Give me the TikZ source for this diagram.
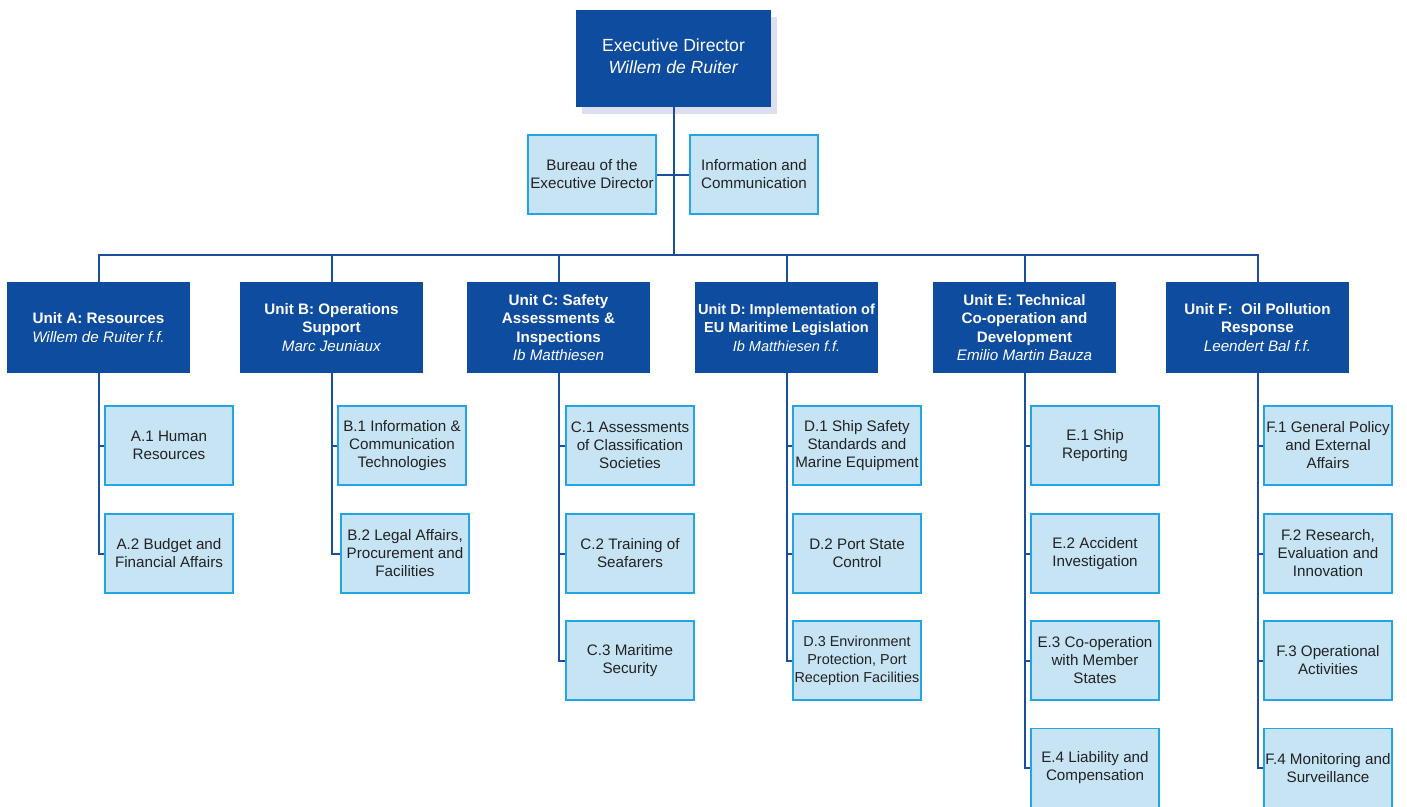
\documentclass[tikz,border=0pt]{standalone}
\usepackage{fontspec}
\setmainfont{Liberation Sans}
\definecolor{unitblue}{HTML}{0E4C9F}
\definecolor{linkblue}{HTML}{1C4E9E}
\definecolor{subfill}{HTML}{C7E4F5}
\definecolor{subline}{HTML}{22A5E2}
\definecolor{shadowc}{HTML}{DCDFEF}
\definecolor{subtext}{HTML}{222222}
\newcommand\subfnt{\fontsize{11.4}{13.5}\selectfont}
\newcommand\subfntsm{\fontsize{10.8}{13.5}\selectfont}
\newcommand\edfnt{\fontsize{13.2}{16.5}\selectfont}
\newcommand\unitfnt{\fontsize{11.4}{13.9}\selectfont}
\newcommand\unitfntsm{\fontsize{10.9}{13.9}\selectfont}
\tikzset{
  subbox/.style={draw=subline, fill=subfill, line width=1.4pt, minimum width=96.25pt, minimum height=59.25pt, inner sep=0pt, align=center, font=\subfnt, text=subtext},
  unitbox/.style={fill=unitblue, minimum width=137.25pt, minimum height=68.25pt, inner sep=0pt, align=center, font=\unitfnt, text=white},
  edbox/.style={fill=unitblue, minimum width=146.25pt, minimum height=72.75pt, inner sep=0pt, align=center, font=\edfnt, text=white},
  shadowbox/.style={fill=shadowc, minimum width=146.25pt, minimum height=72.75pt, inner sep=0pt},
  link/.style={draw=linkblue, line width=1.5pt}
}
\begin{document}
\begin{tikzpicture}[x=0.75pt,y=-0.75pt]
\useasboundingbox (0,0) rectangle (1407,807);
% executive director
\node[shadowbox] (edshadow) at (679.5,65) {};
\node[edbox, text depth=4pt] (ed) at (673.5,58.5) {Executive Director\\\textit{Willem de Ruiter}};
\node[subbox] (bur) at (592,174.5) {Bureau of the\\Executive Director};
\node[subbox] (inf) at (754,174.5) {Information and\\Communication};
\coordinate (bus) at (673.5,255);
% units
\node[unitbox] (ua) at (98.5,327.5) {\textbf{Unit A: Resources}\\\textit{Willem de Ruiter f.f.}};
\node[unitbox] (ub) at (331.5,327.5) {\textbf{Unit B: Operations}\\\textbf{Support}\\\textit{Marc Jeuniaux}};
\node[unitbox] (uc) at (558.5,327.5) {\textbf{Unit C: Safety}\\\textbf{Assessments \&}\\\textbf{Inspections}\\\textit{Ib Matthiesen}};
\node[unitbox, font=\unitfntsm] (ud) at (786.5,327.5) {\textbf{Unit D: Implementation of}\\\textbf{EU Maritime Legislation}\\\textit{Ib Matthiesen f.f.}};
\node[unitbox] (ue) at (1024.5,327.5) {\textbf{Unit E: Technical}\\\textbf{Co-operation and}\\\textbf{Development}\\\textit{Emilio Martin Bauza}};
\node[unitbox] (uf) at (1257.5,327.5) {\textbf{Unit F:\ \ Oil Pollution}\\\textbf{Response}\\\textit{Leendert Bal f.f.}};
% sub units
\node[subbox] (a1) at (169,445.5) {A.1 Human\\Resources};
\node[subbox] (a2) at (169,553.5) {A.2 Budget and\\Financial Affairs};
\node[subbox] (b1) at (402,445.5) {B.1 Information \&\\Communication\\Technologies};
\node[subbox] (b2) at (405,553.5) {B.2 Legal Affairs,\\Procurement and\\Facilities};
\node[subbox] (c1) at (630,445.5) {C.1 Assessments\\of Classification\\Societies};
\node[subbox] (c2) at (630,553.5) {C.2 Training of\\Seafarers};
\node[subbox] (c3) at (630,660.5) {C.3 Maritime\\Security};
\node[subbox] (d1) at (857,445.5) {D.1 Ship Safety\\Standards and\\Marine Equipment};
\node[subbox] (d2) at (857,553.5) {D.2 Port State\\Control};
\node[subbox, font=\subfntsm] (d3) at (857,660.5) {D.3 Environment\\Protection, Port\\Reception Facilities};
\node[subbox] (e1) at (1095,445.5) {E.1 Ship\\Reporting};
\node[subbox] (e2) at (1095,553.5) {E.2 Accident\\Investigation};
\node[subbox] (e3) at (1095,660.5) {E.3 Co-operation\\with Member\\States};
\node[subbox] (e4) at (1095,768) {E.4 Liability and\\Compensation};
\node[subbox] (f1) at (1328,445.5) {F.1 General Policy\\and External\\Affairs};
\node[subbox] (f2) at (1328,553.5) {F.2 Research,\\Evaluation and\\Innovation};
\node[subbox] (f3) at (1328,660.5) {F.3 Operational\\Activities};
\node[subbox] (f4) at (1328,768) {F.4 Monitoring and\\Surveillance};
% connectors
\draw[link] (ed.south) -- (bus);
\draw[link] (bur.east) -- (inf.west);
\draw[link] (ua.north) |- (bus) -| (uf.north);
\foreach \u in {ub,uc,ud,ue} {\draw[link] (\u.north) -- (\u.north |- bus);}
\foreach \u/\s in {ua/a1,ua/a2,ub/b1,ub/b2,uc/c1,uc/c2,uc/c3,ud/d1,ud/d2,ud/d3,ue/e1,ue/e2,ue/e3,ue/e4,uf/f1,uf/f2,uf/f3,uf/f4} {\draw[link] (\u.south) |- (\s.west);}
\end{tikzpicture}
\end{document}
